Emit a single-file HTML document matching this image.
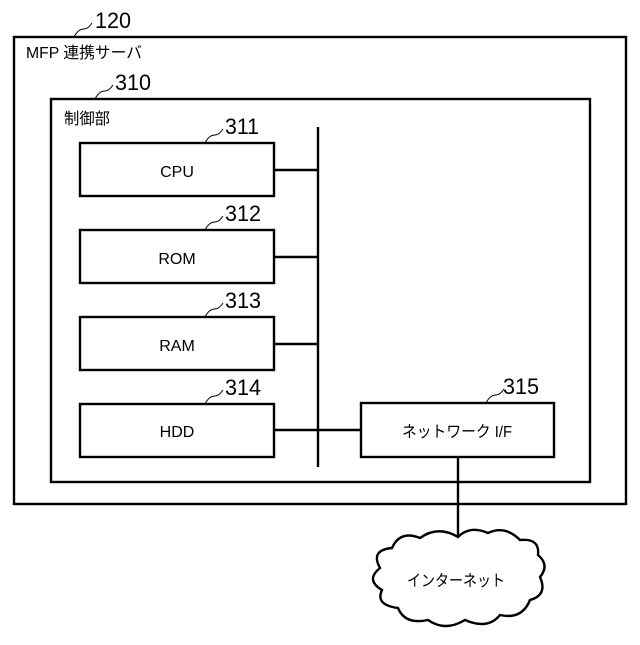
<!DOCTYPE html>
<html><head><meta charset="utf-8"><style>body{margin:0;background:#fff}</style></head><body>
<svg width="640" height="640" xmlns="http://www.w3.org/2000/svg" font-family="'Liberation Sans','Noto Sans CJK JP',sans-serif">
<g fill="none" stroke="#000" stroke-width="2.4">
<rect x="14" y="37" width="612" height="467"/>
<rect x="51" y="99" width="539" height="383"/>
<rect x="80" y="143" width="194" height="53"/>
<rect x="80" y="230" width="194" height="53"/>
<rect x="80" y="317" width="194" height="53"/>
<rect x="80" y="404" width="194" height="53"/>
<rect x="361" y="403" width="193" height="54"/>
<line x1="318" y1="127" x2="318" y2="467"/>
<line x1="274" y1="170" x2="318" y2="170"/>
<line x1="274" y1="257" x2="318" y2="257"/>
<line x1="274" y1="344" x2="318" y2="344"/>
<line x1="274" y1="430" x2="361" y2="430"/>
<line x1="458" y1="457" x2="458" y2="537"/>
<path d="M458 537 Q470 525 488 533 Q505 525 520 540 Q540 538 538 555 Q550 565 540 577 Q548 595 530 600 Q522 620 500 615 Q488 630 465 620 Q445 632 428 620 Q405 625 398 608 Q375 605 382 590 Q365 580 380 568 Q370 550 392 548 Q400 530 420 538 Q438 525 458 537 Z"/>
<g stroke-width="1"><path d="M74 37 q4 -8 10 -8 q4 0 8 -6"/><path d="M95 99 q4 -8 10 -8 q4 0 8 -6"/><path d="M205 143 q4 -8 10 -8 q4 0 8 -6"/><path d="M205 230 q4 -8 10 -8 q4 0 8 -6"/><path d="M205 317 q4 -8 10 -8 q4 0 8 -6"/><path d="M205 404 q4 -8 10 -8 q4 0 8 -6"/><path d="M486 403 q4 -8 10 -8 q4 0 8 -6"/></g>
</g>
<g fill="#000" font-size="22">
<text x="95" y="28" textLength="36" lengthAdjust="spacingAndGlyphs">120</text><text x="115" y="90" textLength="36" lengthAdjust="spacingAndGlyphs">310</text>
<text x="225" y="134" textLength="34" lengthAdjust="spacingAndGlyphs">311</text><text x="225" y="221" textLength="36" lengthAdjust="spacingAndGlyphs">312</text><text x="225" y="308" textLength="36" lengthAdjust="spacingAndGlyphs">313</text><text x="225" y="395" textLength="36" lengthAdjust="spacingAndGlyphs">314</text><text x="503" y="394" textLength="36" lengthAdjust="spacingAndGlyphs">315</text>
</g>
<g fill="#000" font-size="16">
<text x="26" y="58" textLength="116" lengthAdjust="spacingAndGlyphs">MFP 連携サーバ</text>
<text x="64" y="124" textLength="46" lengthAdjust="spacingAndGlyphs">制御部</text>
<g text-anchor="middle"><text x="177" y="177">CPU</text><text x="177" y="264">ROM</text><text x="177" y="351">RAM</text><text x="177" y="437">HDD</text><text x="457" y="437" textLength="110" lengthAdjust="spacingAndGlyphs">ネットワーク I/F</text><text x="456" y="586" textLength="98" lengthAdjust="spacingAndGlyphs">インターネット</text></g>
</g>
</svg>
</body></html>
